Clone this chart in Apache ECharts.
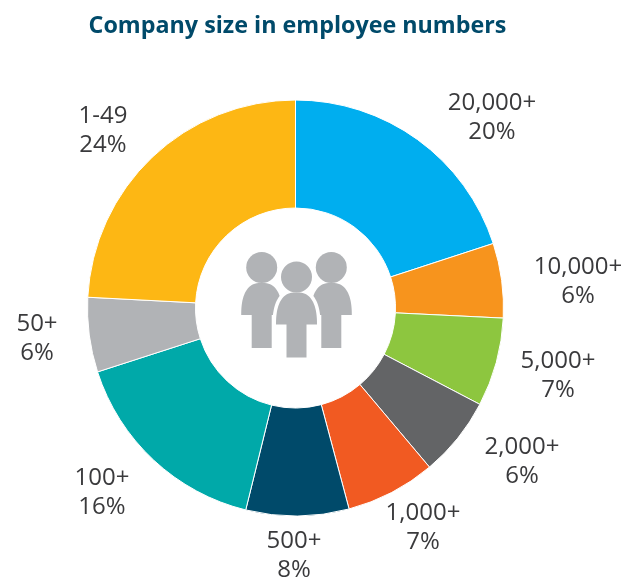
<!DOCTYPE html>
<html><head><meta charset="utf-8">
<style>html,body{margin:0;padding:0;background:#fff}#c{width:637px;height:583px}</style>
<script src="https://cdn.jsdelivr.net/npm/echarts@6/dist/echarts.min.js"></script>
</head><body><div id="c"></div>
<script>
const categories=["20,000+","10,000+","5,000+","2,000+","1,000+","500+","100+","50+","1-49"];
const percentLabels=[20,6,7,6,7,8,16,6,24];
const values=[20,5.8,6.9,6.2,7,8,16.2,5.8,24.2];
const colors=["#00aeef","#f7941d","#8dc63f","#636466","#f15a22","#004a6a","#00a9a9","#b1b3b6","#fdb714"];
const labelPos=[[492,118],[578,282],[558,376],[522,462],[423,528],[294,556],[102,493],[37,339],[103,131]];
const chart=echarts.init(document.getElementById('c'));
const textCol="#3a3a3c", font="'Open Sans'";
const g=[];
labelPos.forEach((p,i)=>g.push({type:'text',x:p[0],y:p[1],style:{text:categories[i]+"\n"+percentLabels[i]+"%",fill:textCol,font:"24px "+font,align:'center',verticalAlign:'middle',lineHeight:29}}));
const gray="#b1b3b6";
function personOutline(cx,top){
 const pts=[];
 for(let k=0;k<=40;k++){
  const t=Math.PI*k/40, c=Math.cos(t), s=Math.sin(t);
  pts.push([cx-20.5*Math.sign(c)*Math.pow(Math.abs(c),0.75),top+62.5-32*Math.pow(s,0.85)]);
 }
 pts.push([cx+10,top+62.5],[cx+10,top+95.5],[cx-10,top+95.5],[cx-10,top+62.5]);
 return pts;
}
function person(cx,top,z,halo){
 const pts=personOutline(cx,top), els=[];
 if(halo){
  els.push({type:'polygon',shape:{points:pts},style:{fill:'#fff',stroke:'#fff',lineWidth:7},z:z});
  els.push({type:'circle',shape:{cx:cx,cy:top+15,r:15.5},style:{fill:'#fff',stroke:'#fff',lineWidth:4},z:z});
 }
 els.push({type:'polygon',shape:{points:pts},style:{fill:gray},z:z+1});
 els.push({type:'circle',shape:{cx:cx,cy:top+15,r:15.5},style:{fill:gray},z:z+1});
 return els;
}
g.push(...person(261.7,252.5,10,false),...person(331.3,252.5,10,false),...person(296.5,262,12,true));
chart.setOption({
 animation:false,
 title:{text:"Company size in employee numbers",left:292.5,top:10,textAlign:'center',textStyle:{color:"#004a6a",fontFamily:font,fontSize:23.3,fontWeight:'bold'}},
 series:[{type:'pie',center:[295.5,308],radius:[100,208],startAngle:90,clockwise:true,
  data:categories.map((n,i)=>({name:n,value:values[i],itemStyle:{color:colors[i]}})),
  itemStyle:{borderColor:'#fff',borderWidth:1},label:{show:false},labelLine:{show:false}}],
 graphic:g
});
</script></body></html>
